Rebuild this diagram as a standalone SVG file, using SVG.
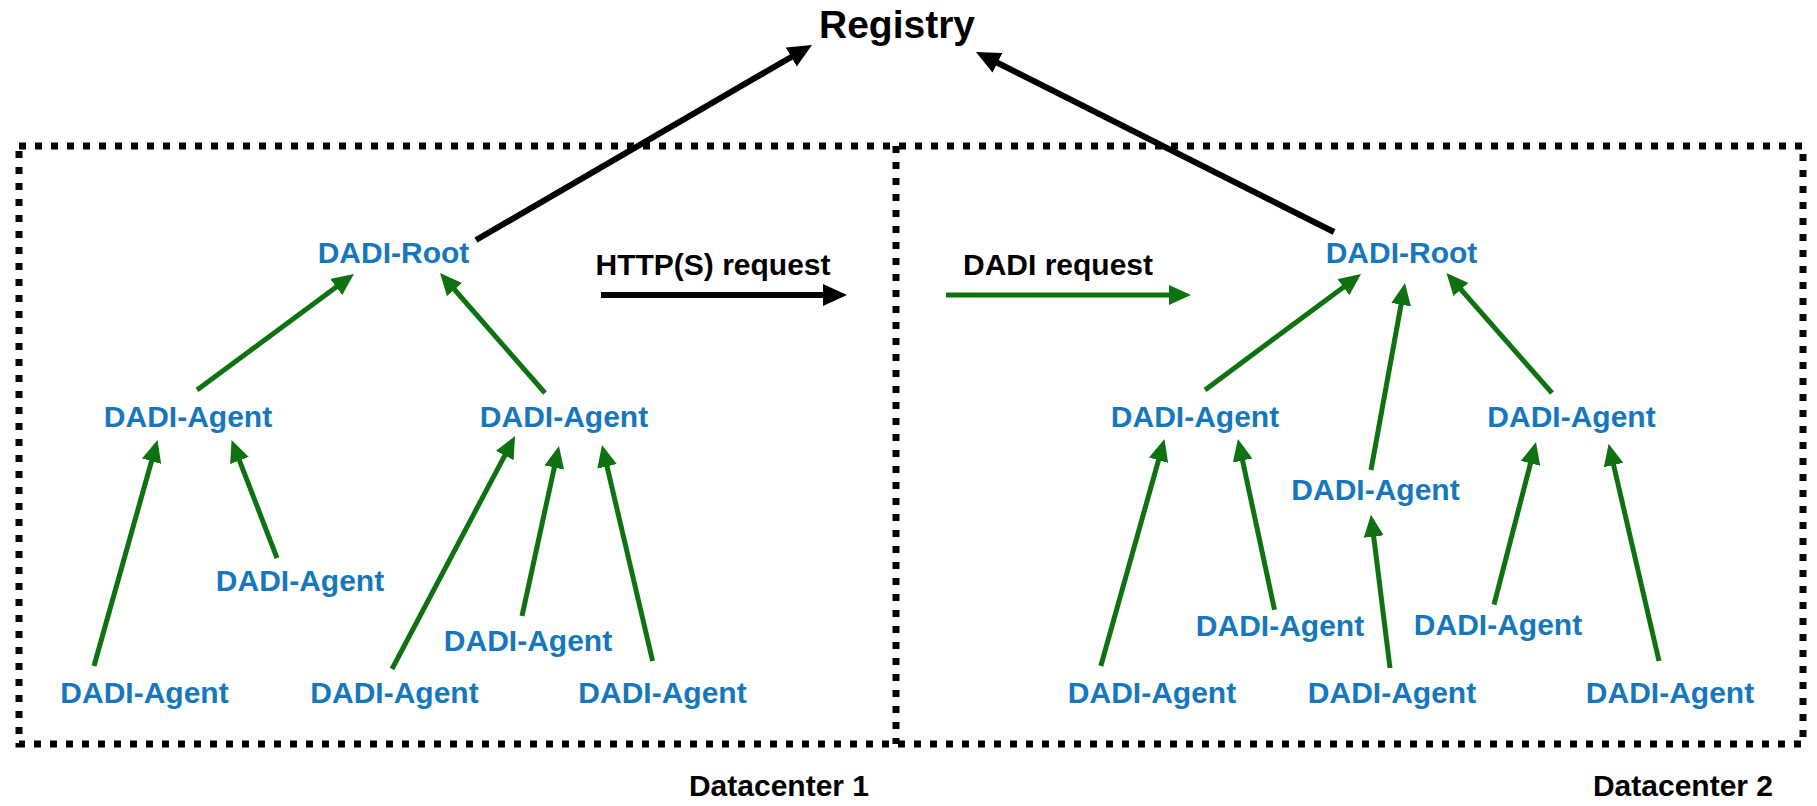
<svg xmlns="http://www.w3.org/2000/svg" width="1817" height="806" viewBox="0 0 1817 806">
<style>
.lbl{font-family:"Liberation Sans",Arial,sans-serif;font-weight:bold;font-size:30px;text-anchor:middle}
.blue{fill:#1777bd}
.blk{fill:#000}
.bl{stroke:#000;stroke-width:6;fill:none}
.gr{stroke:#0f7211;stroke-width:5;fill:none}
.dash{stroke:#000;stroke-width:7;fill:none;stroke-dasharray:7 9}
</style>
<defs>
<marker id="ab" markerUnits="userSpaceOnUse" markerWidth="24" markerHeight="22" refX="10" refY="11" orient="auto">
<path d="M0,0 L24,11 L0,22 z" fill="#000"/>
</marker>
<marker id="ag" markerUnits="userSpaceOnUse" markerWidth="22" markerHeight="20" refX="8" refY="10" orient="auto">
<path d="M0,0 L22,10 L0,20 z" fill="#0f7211"/>
</marker>
</defs>
<rect width="1817" height="806" fill="#fff"/>
<g id="datacenters">
<rect class="dash" x="19" y="146" width="1784" height="598"/>
<line class="dash" x1="896" y1="146" x2="896" y2="744"/>
<text class="lbl blk" x="779" y="796">Datacenter 1</text>
<text class="lbl blk" x="1683" y="796">Datacenter 2</text>
</g>
<g id="connectors">
<line class="bl" x1="476" y1="240" x2="799.9" y2="52" marker-end="url(#ab)"/>
<line class="bl" x1="1334" y1="232" x2="988.5" y2="58.3" marker-end="url(#ab)"/>
<line class="bl" x1="601" y1="295" x2="833" y2="295" marker-end="url(#ab)"/>
<line class="gr" x1="946" y1="295" x2="1177" y2="295" marker-end="url(#ag)"/>
<line class="gr" x1="197" y1="390" x2="342.7" y2="282.3" marker-end="url(#ag)"/>
<line class="gr" x1="545" y1="393" x2="449.2" y2="283.5" marker-end="url(#ag)"/>
<line class="gr" x1="94" y1="666" x2="153.7" y2="453.5" marker-end="url(#ag)"/>
<line class="gr" x1="277" y1="558" x2="236.6" y2="453.1" marker-end="url(#ag)"/>
<line class="gr" x1="392" y1="669" x2="508.5" y2="448.4" marker-end="url(#ag)"/>
<line class="gr" x1="522" y1="616" x2="556" y2="459.7" marker-end="url(#ag)"/>
<line class="gr" x1="652.6" y1="661" x2="605.2" y2="458.6" marker-end="url(#ag)"/>
<line class="gr" x1="1205" y1="390" x2="1349.8" y2="282.4" marker-end="url(#ag)"/>
<line class="gr" x1="1371" y1="470" x2="1402.5" y2="296.8" marker-end="url(#ag)"/>
<line class="gr" x1="1552" y1="393" x2="1455.7" y2="283.5" marker-end="url(#ag)"/>
<line class="gr" x1="1100.8" y1="666" x2="1160.7" y2="452.5" marker-end="url(#ag)"/>
<line class="gr" x1="1274.5" y1="609.7" x2="1240.9" y2="452.7" marker-end="url(#ag)"/>
<line class="gr" x1="1390" y1="668" x2="1372.7" y2="528.6" marker-end="url(#ag)"/>
<line class="gr" x1="1494" y1="604.7" x2="1532.5" y2="455.6" marker-end="url(#ag)"/>
<line class="gr" x1="1659" y1="661" x2="1611.8" y2="457.3" marker-end="url(#ag)"/>
</g>
<g id="edge-labels">
<text class="lbl blk" x="713" y="275">HTTP(S) request</text>
<text class="lbl blk" x="1058" y="275">DADI request</text>
</g>
<g id="registry"><text class="lbl blk" x="897" y="38" style="font-size:39px">Registry</text></g>
<g id="root1"><text class="lbl blue" x="393.5" y="263">DADI-Root</text></g>
<g id="root2"><text class="lbl blue" x="1401.5" y="263">DADI-Root</text></g>
<g id="dc1-agent-a"><text class="lbl blue" x="188" y="427">DADI-Agent</text></g>
<g id="dc1-agent-b"><text class="lbl blue" x="564" y="427">DADI-Agent</text></g>
<g id="dc1-agent-c"><text class="lbl blue" x="300" y="591">DADI-Agent</text></g>
<g id="dc1-agent-d"><text class="lbl blue" x="528" y="651">DADI-Agent</text></g>
<g id="dc1-agent-e"><text class="lbl blue" x="144.5" y="703">DADI-Agent</text></g>
<g id="dc1-agent-f"><text class="lbl blue" x="394.5" y="703">DADI-Agent</text></g>
<g id="dc1-agent-g"><text class="lbl blue" x="662.5" y="703">DADI-Agent</text></g>
<g id="dc2-agent-a"><text class="lbl blue" x="1195" y="427">DADI-Agent</text></g>
<g id="dc2-agent-b"><text class="lbl blue" x="1571.5" y="427">DADI-Agent</text></g>
<g id="dc2-agent-c"><text class="lbl blue" x="1375.5" y="500">DADI-Agent</text></g>
<g id="dc2-agent-d"><text class="lbl blue" x="1280" y="636">DADI-Agent</text></g>
<g id="dc2-agent-e"><text class="lbl blue" x="1498" y="635">DADI-Agent</text></g>
<g id="dc2-agent-f"><text class="lbl blue" x="1152" y="703">DADI-Agent</text></g>
<g id="dc2-agent-g"><text class="lbl blue" x="1392" y="703">DADI-Agent</text></g>
<g id="dc2-agent-h"><text class="lbl blue" x="1670" y="703">DADI-Agent</text></g>
</svg>
